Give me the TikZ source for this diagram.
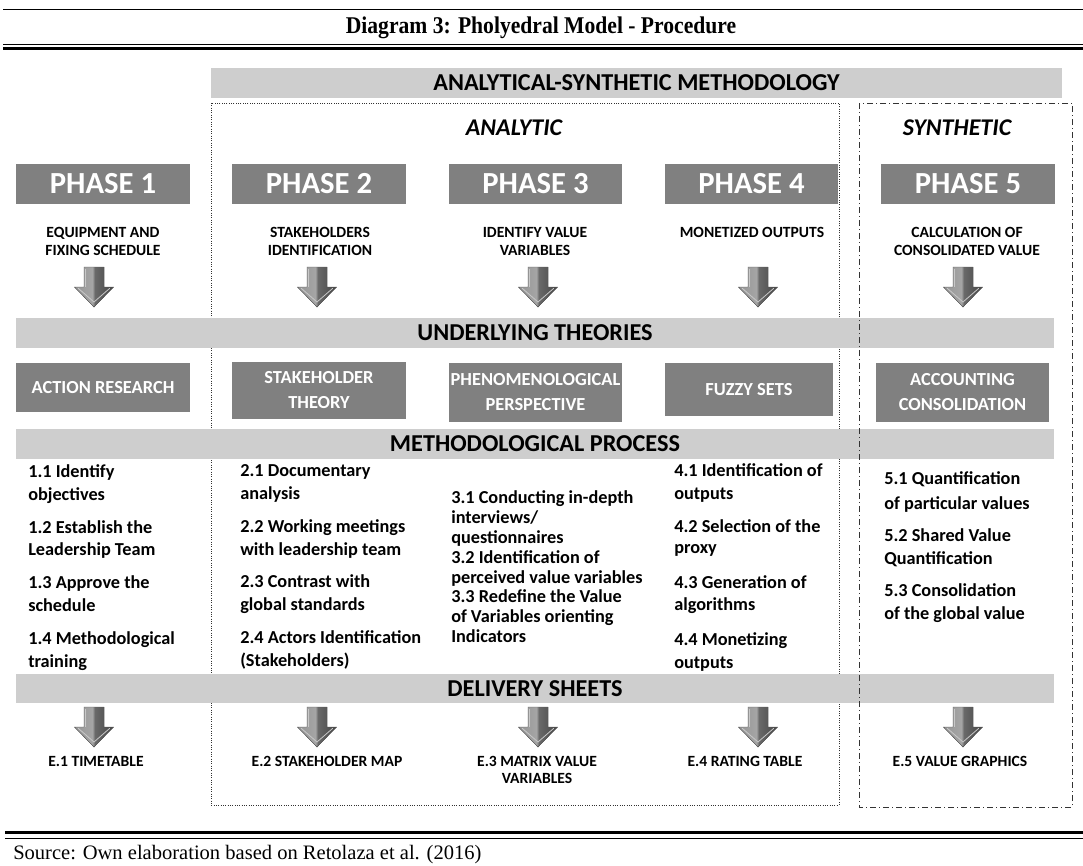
\documentclass[tikz,border=0pt]{standalone}
\usepackage{fontspec}
\setmainfont{Liberation Serif}
\setsansfont{Carlito}
\newfontfamily\titlefont{Liberation Serif}[FakeStretch=0.9]

\definecolor{boxgray}{RGB}{128,128,128}
\definecolor{bargray}{RGB}{206,206,206}
\definecolor{frameline}{RGB}{50,50,50}
\definecolor{arrA}{RGB}{150,150,150}
\definecolor{arrB}{RGB}{165,165,165}
\definecolor{arrC}{RGB}{105,105,105}
\definecolor{arrD}{RGB}{70,70,70}
\definecolor{arrEdge}{RGB}{85,85,85}
\definecolor{arrLight}{RGB}{200,200,200}

% gray bevel look of the block arrows
\pgfdeclarehorizontalshading{arrowshade}{100bp}{color(0bp)=(arrA); color(25bp)=(arrA); color(48bp)=(arrB); color(51bp)=(arrC); color(75bp)=(arrD); color(100bp)=(arrD)}

\tikzset{
  phasebox/.style={fill=boxgray, text=white, inner sep=0pt,
    font=\sffamily\bfseries\fontsize{23}{27}\selectfont,
    minimum width=130.1pt, minimum height=30pt},
  theorybox/.style={fill=boxgray, text=white, inner sep=0pt, align=center,
    font=\sffamily\bfseries\fontsize{13.8}{18.75}\selectfont},
  bar/.style={fill=bargray, inner sep=0pt, minimum height=22.5pt,
    font=\sffamily\bfseries\fontsize{18.2}{20}\selectfont},
  sidehead/.style={inner sep=0pt, font=\sffamily\bfseries\itshape\fontsize{18}{20}\selectfont},
  sublabel/.style={anchor=base, inner sep=0pt, font=\sffamily\bfseries\fontsize{11.7}{14}\selectfont},
  proc/.style={anchor=base west, inner sep=0pt, font=\sffamily\bfseries\fontsize{13.7}{17}\selectfont},
  rule/.style={line width=0.75pt},
  thickrule/.style={line width=2.25pt},
  % block arrow pointing down; its origin is the middle of the top edge
  pics/downarrow/.style={code={
    \fill[shading=arrowshade, draw=arrEdge, line width=0.3pt]
      (-10,0) -- (10,0) -- (10,20) -- (19.5,20) -- (0,40) -- (-19.5,20) -- (-10,20) -- cycle;
    \draw[arrLight, line width=0.6pt, line cap=round] (-15.5,21.5) -- (0,35) -- (15.5,21.5);
    \draw[arrLight, line width=0.5pt] (-8.5,1.5) -- (-8.5,20);
  }}
}

\begin{document}
\begin{tikzpicture}[x=0.75pt,y=-0.75pt]
\useasboundingbox (0,0) rectangle (1083,865);

% caption rules and title
\draw[rule] (3,9) -- (1083,9);
\draw[rule] (3,44) -- (1083,44);
\draw[thickrule] (3,48) -- (1083,48);
\node[anchor=base, inner sep=0pt, font=\titlefont\bfseries\fontsize{18}{20}\selectfont] (title) at (541,33) {Diagram 3: Pholyedral Model - Procedure};

% analytic frame
\draw[frameline, densely dotted, line width=0.75pt] (211,103) rectangle (839,805);

% top methodology bar
\node[bar, minimum width=638.25pt] (method) at (636.5,83) {ANALYTICAL-SYNTHETIC METHODOLOGY};

\node[sidehead] (analytic) at (514,128) {ANALYTIC};
\node[sidehead] (synthetic) at (957,128) {SYNTHETIC};

% phases
\node[phasebox] (p1) at (103,184) {PHASE 1};
\node[phasebox] (p2) at (319,184) {PHASE 2};
\node[phasebox] (p3) at (535.5,184) {PHASE 3};
\node[phasebox] (p4) at (751.5,184) {PHASE 4};
\node[phasebox] (p5) at (968,184) {PHASE 5};

\node[sublabel] (s1a) at (103,237) {EQUIPMENT AND};
\node[sublabel] (s1b) at (103,255) {FIXING SCHEDULE};
\node[sublabel] (s2a) at (320,237) {STAKEHOLDERS};
\node[sublabel] (s2b) at (320,255) {IDENTIFICATION};
\node[sublabel] (s3a) at (535,237) {IDENTIFY VALUE};
\node[sublabel] (s3b) at (535,255) {VARIABLES};
\node[sublabel] (s4a) at (752,237) {MONETIZED OUTPUTS};
\node[sublabel] (s5a) at (967,237) {CALCULATION OF};
\node[sublabel] (s5b) at (967,255) {CONSOLIDATED VALUE};

\pic at (94,267) {downarrow};
\pic at (317,267) {downarrow};
\pic at (538,267) {downarrow};
\pic at (758,267) {downarrow};
\pic at (963,267) {downarrow};

% section bars
\node[bar, minimum width=778.5pt] (theories) at (535,333) {UNDERLYING THEORIES};
\node[bar, minimum width=778.5pt] (process) at (535,444) {METHODOLOGICAL PROCESS};
\node[bar, minimum width=778.5pt, minimum height=21.75pt] (delivery) at (535,688.5) {DELIVERY SHEETS};

% theories
\node[theorybox, minimum width=130.5pt, minimum height=36.75pt] (t1) at (103,387.5) {ACTION RESEARCH};
\node[theorybox, minimum width=130.5pt, minimum height=42.75pt] (t2) at (319,390.5) {STAKEHOLDER\\THEORY};
\node[theorybox, minimum width=129.75pt, minimum height=44.25pt] (t3) at (535.5,392.5) {PHENOMENOLOGICAL\\PERSPECTIVE};
\node[theorybox, minimum width=126pt, minimum height=39.75pt] (t4) at (749,389.5) {FUZZY SETS};
\node[theorybox, minimum width=129.75pt, minimum height=44.25pt] (t5) at (962.5,392.5) {ACCOUNTING\\CONSOLIDATION};

% methodological steps
\foreach \t/\yy [count=\i] in {1.1 Identify/477, objectives/500, 1.2 Establish the/533,
    Leadership Team/555, 1.3 Approve the/588, schedule/611, 1.4 Methodological/644, training/667}
  \node[proc] (ca\i) at (28,\yy) {\t};
\foreach \t/\yy [count=\i] in {2.1 Documentary/476, analysis/499, 2.2 Working meetings/532,
    with leadership team/555, 2.3 Contrast with/587, global standards/610,
    2.4 Actors Identification/643, (Stakeholders)/666}
  \node[proc] (cb\i) at (240,\yy) {\t};
\foreach \t/\yy [count=\i] in {3.1 Conducting in-depth/503, {interviews/}/523, questionnaires/543,
    3.2 Identification of/563, perceived value variables/583, 3.3 Redefine the Value/602,
    of Variables orienting/622, Indicators/642}
  \node[proc] (cc\i) at (451,\yy) {\t};
\foreach \t/\yy [count=\i] in {4.1 Identification of/476, outputs/499, 4.2 Selection of the/532,
    proxy/553, 4.3 Generation of/588, algorithms/610, 4.4 Monetizing/645, outputs/668}
  \node[proc] (cd\i) at (674,\yy) {\t};
\foreach \t/\yy [count=\i] in {5.1 Quantification/484, of particular values/509,
    5.2 Shared Value/541, Quantification/564, 5.3 Consolidation/596, of the global value/619}
  \node[proc] (ce\i) at (884,\yy) {\t};

% delivery sheets
\pic at (94,707) {downarrow};
\pic at (317,707) {downarrow};
\pic at (538,707) {downarrow};
\pic at (758,707) {downarrow};
\pic at (963,707) {downarrow};

\node[sublabel] (e1) at (96,766) {E.1 TIMETABLE};
\node[sublabel] (e2) at (327,766) {E.2 STAKEHOLDER MAP};
\node[sublabel] (e3a) at (537,766) {E.3 MATRIX VALUE};
\node[sublabel] (e3b) at (537,783) {VARIABLES};
\node[sublabel] (e4) at (745,766) {E.4 RATING TABLE};
\node[sublabel] (e5) at (960,766) {E.5 VALUE GRAPHICS};

% synthetic frame, drawn over the bars
\draw[black!80, line width=0.75pt, dash pattern=on 4.5pt off 2.25pt on 0.75pt off 2.25pt] (859,103) rectangle (1072,807);

% closing rules and source
\draw[thickrule] (5,832) -- (1083,832);
\draw[rule] (5,838) -- (1083,838);
\node[anchor=base west, inner sep=0pt, font=\rmfamily\fontsize{15.4}{18}\selectfont] (source) at (13,859) {Source: Own elaboration based on Retolaza et al. (2016)};
\end{tikzpicture}
\end{document}
